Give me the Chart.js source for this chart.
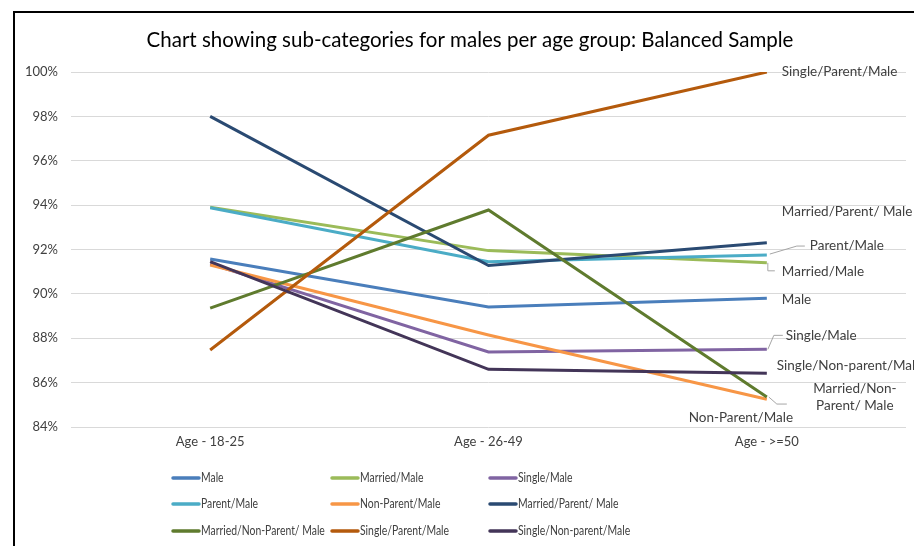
<!DOCTYPE html>
<html>
<head>
<meta charset="utf-8">
<script src="https://cdn.jsdelivr.net/npm/chart.js@4/dist/chart.umd.min.js"></script>
<style>
  html, body { margin: 0; padding: 0; background: #fff; }
  #wrap { width: 914px; height: 546px; position: relative; }
</style>
</head>
<body>
<div id="wrap"><canvas id="c" width="914" height="546"></canvas></div>
<script>
// Age groups on the x axis
const categories = ['Age - 18-25', 'Age - 26-49', 'Age - >=50'];

// Share (%) for each male sub-category per age group
const male                 = [91.57, 89.41, 89.80];
const marriedMale          = [93.90, 91.95, 91.40];
const singleMale           = [91.35, 87.38, 87.50];
const parentMale           = [93.88, 91.45, 91.75];
const nonParentMale        = [91.30, 88.15, 85.25];
const marriedParentMale    = [98.00, 91.28, 92.30];
const marriedNonParentMale = [89.36, 93.78, 85.35];
const singleParentMale     = [87.47, 97.15, 100.00];
const singleNonParentMale  = [91.45, 86.60, 86.42];

const seriesNames = [
  'Male', 'Married/Male', 'Single/Male',
  'Parent/Male', 'Non-Parent/Male', 'Married/Parent/ Male',
  'Married/Non-Parent/ Male', 'Single/Parent/Male', 'Single/Non-parent/Male'
];
const seriesValues = [
  male, marriedMale, singleMale,
  parentMale, nonParentMale, marriedParentMale,
  marriedNonParentMale, singleParentMale, singleNonParentMale
];
const seriesColors = [
  '#4A7EBB', '#9BBB59', '#8064A2',
  '#4BACC6', '#F79646', '#2A4A72',
  '#5F7B2E', '#B45A0C', '#433558'
];

// Y axis ticks
const yTicks = [84, 86, 88, 90, 92, 94, 96, 98, 100];

const FONT = 'Lato, "Open Sans", sans-serif';
const TEXT = '#404040';

// End-of-line labels: offsets from the last point, optional leader line
const endLabels = [
  { i: 7, dx: 15, dy: 0, align: 'left' },
  { i: 5, dx: 15, dy: -31, align: 'left' },
  { i: 3, dx: 43, dy: -9, align: 'left', leader: [[3, -1], [30, -9], [38, -9]] },
  { i: 1, dx: 15, dy: 9, align: 'left', leader: [[1, 0], [1, 8], [8, 8]] },
  { i: 0, dx: 15, dy: 1, align: 'left' },
  { i: 2, dx: 19, dy: -14, align: 'left', leader: [[1, 0], [7, -14], [16, -14]] },
  { i: 8, dx: 10, dy: -8, align: 'left' },
  { i: 6, dx: 88, dy: 0, align: 'center', lines: ['Married/Non-', 'Parent/ Male'], lh: 17, leader: [[2, 0], [10, 7], [20, 7]] },
  { i: 4, dx: -26, dy: 18, align: 'center' }
];

const decor = {
  id: 'decor',
  beforeDraw(chart) {
    const ctx = chart.ctx;
    ctx.save();
    ctx.fillStyle = '#fff';
    ctx.fillRect(0, 0, chart.width, chart.height);
    // chart frame
    ctx.strokeStyle = '#000';
    ctx.lineWidth = 2;
    ctx.beginPath();
    ctx.moveTo(14, chart.height + 2);
    ctx.lineTo(14, 12);
    ctx.lineTo(chart.width + 2, 12);
    ctx.stroke();
    // title
    ctx.fillStyle = '#000';
    ctx.font = '20.5px ' + FONT;
    ctx.textAlign = 'center';
    ctx.textBaseline = 'middle';
    ctx.fillText('Chart showing sub-categories for males per age group: Balanced Sample', 470, 40);
    ctx.restore();
  },
  afterDatasetsDraw(chart) {
    const ctx = chart.ctx;
    ctx.save();
    ctx.font = '13.5px ' + FONT;
    ctx.textBaseline = 'middle';
    endLabels.forEach(l => {
      const meta = chart.getDatasetMeta(l.i);
      const pt = meta.data[meta.data.length - 1];
      const x0 = pt.x, y0 = pt.y;
      if (l.leader) {
        ctx.strokeStyle = '#A6A6A6';
        ctx.lineWidth = 1;
        ctx.beginPath();
        l.leader.forEach((p, k) => {
          if (k === 0) ctx.moveTo(x0 + p[0], y0 + p[1]);
          else ctx.lineTo(x0 + p[0], y0 + p[1]);
        });
        ctx.stroke();
      }
      ctx.fillStyle = TEXT;
      ctx.textAlign = l.align;
      const lines = l.lines || [seriesNames[l.i]];
      const lh = l.lh || 0;
      const start = y0 + l.dy - (lines.length - 1) * lh / 2;
      lines.forEach((t, k) => ctx.fillText(t, x0 + l.dx, start + k * lh));
    });
    // legend: three columns by three rows, slightly condensed text
    const colX = [172, 331, 489];
    const rowY = [478, 504, 531];
    ctx.font = '13px ' + FONT;
    ctx.textAlign = 'left';
    seriesNames.forEach((name, i) => {
      const x = colX[i % 3], y = rowY[Math.floor(i / 3)];
      ctx.strokeStyle = seriesColors[i];
      ctx.lineWidth = 3.5;
      ctx.lineCap = 'round';
      ctx.beginPath();
      ctx.moveTo(x + 1, y);
      ctx.lineTo(x + 27, y);
      ctx.stroke();
      ctx.fillStyle = TEXT;
      const w = ctx.measureText(name).width;
      ctx.fillText(name, x + 29, y, w * 0.8);
    });
    ctx.restore();
  }
};

new Chart(document.getElementById('c'), {
  type: 'line',
  data: {
    labels: categories,
    datasets: seriesNames.map((name, i) => ({
      label: name,
      data: seriesValues[i],
      borderColor: seriesColors[i],
      backgroundColor: seriesColors[i],
      borderWidth: 3,
      pointRadius: 0,
      tension: 0,
      fill: false,
      order: seriesNames.length - i
    }))
  },
  options: {
    responsive: false,
    animation: false,
    events: [],
    layout: { padding: { top: 72, right: 8, left: 0, bottom: 0 } },
    plugins: {
      legend: { display: false },
      title: { display: false },
      tooltip: { enabled: false }
    },
    scales: {
      x: {
        offset: true,
        grid: { display: false, drawTicks: false },
        border: { display: false },
        ticks: { color: TEXT, font: { family: FONT, size: 13 }, padding: 7, maxRotation: 0 },
        afterFit(s) { s.height = 119; }
      },
      y: {
        min: 84,
        max: 100,
        afterBuildTicks(s) { s.ticks = yTicks.map(v => ({ value: v })); },
        grid: { color: '#D9D9D9', lineWidth: 1, drawTicks: false },
        border: { display: false },
        ticks: { color: TEXT, font: { family: FONT, size: 13 }, padding: 13, callback: v => v + '%' },
        afterFit(s) { s.width = 71; }
      }
    }
  },
  plugins: [decor]
});
</script>
</body>
</html>
